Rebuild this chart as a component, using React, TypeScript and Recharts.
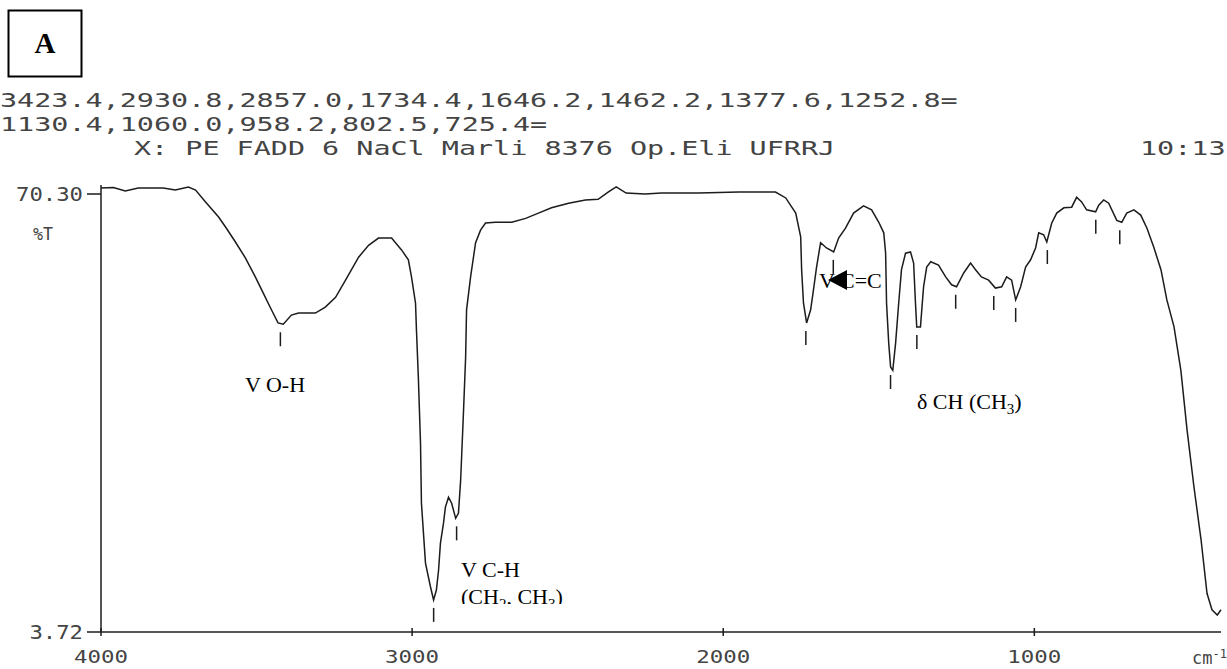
import { ComposedChart, Line, Scatter, XAxis, YAxis } from 'recharts'

// IR spectrum, wavenumber (cm-1) vs %T
const wavenumber = [
  4000, 3960, 3922, 3880, 3800, 3761, 3719, 3696, 3664, 3622, 3597, 3568, 3536, 3504, 3478, 3455,
  3431, 3414, 3388, 3365, 3311, 3279, 3246, 3214, 3172, 3140, 3108, 3066, 3034, 3012, 3002, 2989,
  2986, 2980, 2973, 2970, 2957, 2941, 2931, 2922, 2915, 2909, 2899, 2893, 2883, 2873, 2860, 2851,
  2844, 2835, 2828, 2825, 2812, 2796, 2780, 2764, 2732, 2680, 2635, 2594, 2552, 2497, 2443, 2402,
  2370, 2344, 2312, 2251, 2199, 2144, 2079, 1950, 1832, 1799, 1767, 1751, 1748, 1742, 1732, 1719,
  1710, 1700, 1687, 1668, 1645, 1629, 1607, 1581, 1549, 1523, 1500, 1484, 1478, 1475, 1468, 1462,
  1455, 1446, 1436, 1427, 1414, 1398, 1388, 1382, 1378, 1366, 1356, 1346, 1333, 1308, 1285, 1266,
  1250, 1227, 1205, 1189, 1170, 1147, 1125, 1105, 1089, 1073, 1060, 1044, 1028, 1012, 996, 986,
  970, 960, 944, 928, 905, 880, 864, 848, 832, 803, 793, 777, 761, 735, 719, 703,
  680, 658, 638, 616, 593, 574, 551, 529, 509, 487, 464, 445, 429, 412, 400,
]
const transmittance = [
  71.2, 71.3, 70.75, 71.2, 71.2, 70.9, 71.36, 70.9, 69.1, 66.8, 65.1, 63.0, 60.6, 57.7, 55.2, 52.97,
  50.7, 50.5, 51.9, 52.2, 52.2, 53.1, 54.6, 57.2, 60.7, 62.5, 63.6, 63.6, 61.8, 60.3, 57.7, 53.7,
  49.6, 42.5, 32.4, 23.3, 14.2, 10.6, 8.6, 10.1, 13.1, 17.2, 20.3, 22.7, 24.2, 23.3, 21.0, 21.8,
  26.8, 37.0, 45.5, 52.7, 57.7, 62.9, 64.8, 65.9, 66.0, 66.0, 66.6, 67.4, 68.2, 68.9, 69.4, 69.5,
  70.6, 71.4, 70.45, 70.3, 70.45, 70.45, 70.45, 70.6, 70.6, 69.7, 67.4, 63.8, 58.8, 53.7, 50.7, 52.7,
  55.7, 59.2, 62.9, 62.1, 61.5, 63.6, 65.1, 67.4, 68.5, 67.9, 66.0, 64.4, 61.3, 53.7, 47.6, 44.0,
  43.5, 47.6, 53.7, 58.8, 61.3, 61.5, 59.8, 53.7, 50.1, 50.1, 56.2, 59.2, 60.0, 59.5, 57.7, 56.5,
  56.2, 58.3, 59.8, 58.8, 57.7, 57.2, 56.0, 56.2, 57.7, 57.2, 54.2, 56.2, 59.2, 60.3, 62.1, 64.4,
  64.1, 63.0, 65.9, 67.4, 68.2, 68.3, 69.8, 69.1, 67.9, 67.6, 68.6, 69.4, 68.9, 66.3, 66.0, 67.4,
  67.9, 67.1, 65.1, 62.2, 58.8, 54.2, 50.1, 43.5, 34.4, 25.8, 17.7, 9.6, 7.1, 6.3, 7.1,
]

const peakPositions = [3423.4, 2930.8, 2857.0, 1734.4, 1646.2, 1462.2, 1377.6, 1252.8, 1130.4, 1060.0, 958.2, 802.5, 725.4]
const peakDepths = [50.5, 8.6, 21.0, 50.7, 61.5, 44.0, 50.1, 56.2, 56.0, 54.2, 63.0, 67.6, 66.0]

const xTicks = [4000, 3000, 2000, 1000]
const yTicks = [3.72, 70.3]

const headerLines = [
  '3423.4,2930.8,2857.0,1734.4,1646.2,1462.2,1377.6,1252.8=',
  '1130.4,1060.0,958.2,802.5,725.4=',
]
const runInfo = 'X: PE FADD 6 NaCl Marli 8376 Op.Eli UFRRJ'
const runTime = '10:13'

const spectrum = wavenumber.map((w, i) => ({ w, t: transmittance[i] }))
const peaks = peakPositions.map((w, i) => ({ w, t: peakDepths[i] }))

const ink = '#1c1c1c'
const print = '#444'
const mono = '"DejaVu Sans Mono", "Liberation Mono", monospace'
const serif = '"Liberation Serif", "DejaVu Serif", serif'
const pitch = 17.1 // printer character pitch, px

const XTick = (p: any) => {
  const label = String(p.payload.value)
  return (
    <g>
      <line x1={p.x} x2={p.x} y1={p.y - 4} y2={p.y + 4} stroke={ink} strokeWidth={1.5} />
      <text x={p.x - 27} y={p.y + 31} textLength={54} lengthAdjust="spacingAndGlyphs"
        fontFamily={mono} fontSize={18} fill={print}>{label}</text>
    </g>
  )
}

const YTick = (p: any) => {
  const v = p.payload.value
  const label = v > 10 ? v.toFixed(2) : String(v)
  const len = label.length * 13.4
  return (
    <g>
      <line x1={p.x - 14} x2={p.x} y1={p.y} y2={p.y} stroke={ink} strokeWidth={1.5} />
      <text x={p.x - 18 - len} y={p.y + 7} textLength={len} lengthAdjust="spacingAndGlyphs"
        fontFamily={mono} fontSize={19} fill={print}>{label}</text>
    </g>
  )
}

const PeakMark = (p: any) => (
  <line x1={p.cx} x2={p.cx} y1={p.cy + 8} y2={p.cy + 22} stroke={ink} strokeWidth={1.5} />
)

export default function App() {
  return (
    <div style={{ position: 'absolute', left: 0, top: 0, width: 1227, height: 669, background: '#fff' }}>
      <ComposedChart width={1227} height={669} margin={{ top: 185, right: 6, left: 0, bottom: 7 }}>
        <XAxis dataKey="w" type="number" domain={[400, 4000]} reversed ticks={xTicks}
          height={30} tickSize={0} tickMargin={0} tick={<XTick />}
          axisLine={{ stroke: ink, strokeWidth: 1.5 }} tickLine={false} />
        <YAxis type="number" domain={[3.72, 71.67]} ticks={yTicks} width={101}
          tickSize={0} tickMargin={0} tick={<YTick />}
          axisLine={{ stroke: ink, strokeWidth: 1.5 }} tickLine={false} />
        <Line data={spectrum} dataKey="t" type="linear" stroke={ink} strokeWidth={1.5}
          dot={false} isAnimationActive={false} />
        <Scatter data={peaks} dataKey="t" shape={<PeakMark />} isAnimationActive={false} />
      </ComposedChart>

      <svg width={1227} height={669} style={{ position: 'absolute', left: 0, top: 0, pointerEvents: 'none' }}>
        <defs>
          <clipPath id="cutBottom">
            <rect x={440} y={540} width={200} height={64} />
          </clipPath>
        </defs>
        <rect x={8.5} y={10.5} width={73} height={66} fill="none" stroke="#000" strokeWidth={2} />
        <text x={45} y={53} textAnchor="middle" fontFamily={serif} fontWeight="bold" fontSize={29} fill="#000">A</text>

        <text x={0} y={107} textLength={headerLines[0].length * pitch} lengthAdjust="spacingAndGlyphs"
          fontFamily={mono} fontSize={19} fill={print}>{headerLines[0]}</text>
        <text x={0} y={131} textLength={headerLines[1].length * pitch} lengthAdjust="spacingAndGlyphs"
          fontFamily={mono} fontSize={19} fill={print}>{headerLines[1]}</text>
        <text x={134} y={155} textLength={runInfo.length * pitch} lengthAdjust="spacingAndGlyphs"
          fontFamily={mono} fontSize={19} fill={print}>{runInfo}</text>
        <text x={1140} y={155} textLength={runTime.length * pitch} lengthAdjust="spacingAndGlyphs"
          fontFamily={mono} fontSize={19} fill={print}>{runTime}</text>

        <text x={33} y={240} textLength={20} lengthAdjust="spacingAndGlyphs" fontFamily={mono} fontSize={17} fill={print}>%T</text>
        <text x={1192} y={664} fontFamily={mono} fontSize={17} fill={print}>cm<tspan dy={-6} fontSize={12}>-1</tspan></text>

        <g fontFamily={serif} fontSize={22} fill="#000">
          <text x={275} y={392} textAnchor="middle">V O-H</text>
          <text x={461} y={577}>V C-H</text>
          <text x={461} y={604} clipPath="url(#cutBottom)">
            (CH<tspan dy={5} fontSize={15}>2</tspan><tspan dy={-5}>, CH</tspan><tspan dy={5} fontSize={15}>3</tspan><tspan dy={-5}>)</tspan>
          </text>
          <text x={819} y={288}>V C=C</text>
          <text x={917} y={409}>
            δ CH (CH<tspan dy={5} fontSize={15}>3</tspan><tspan dy={-5}>)</tspan>
          </text>
        </g>
        <polygon points="828,280 847,270 847,290" fill="#000" />
      </svg>
    </div>
  )
}
